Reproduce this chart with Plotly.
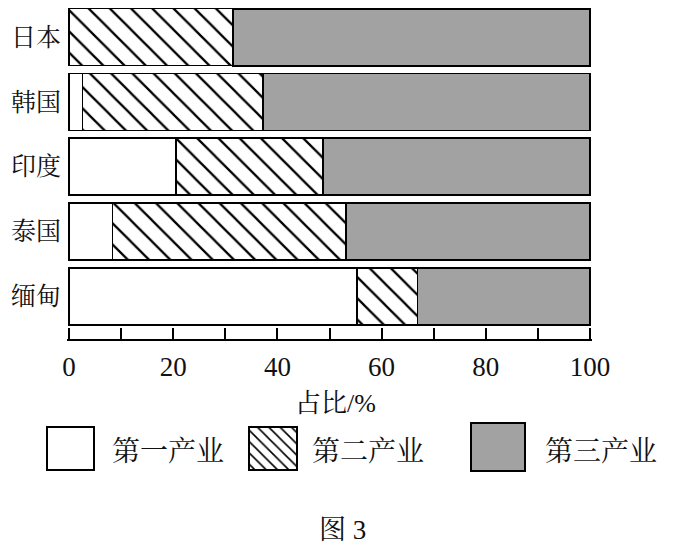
import plotly.graph_objs as go

# data (percent share of each sector)
countries = ['日本', '韩国', '印度', '泰国', '缅甸']
primary = [0, 2.6, 20.5, 8.3, 55.3]
secondary = [31.5, 34.7, 28.2, 44.9, 11.6]
tertiary = [68.5, 62.7, 51.3, 46.8, 33.1]
sector_names = ['第一产业', '第二产业', '第三产业']
x_ticks = [0, 10, 20, 30, 40, 50, 60, 70, 80, 90, 100]
x_ticktext = ['0', '', '20', '', '40', '', '60', '', '80', '', '100']

W, H = 678, 551
OFF = 8  # page body margin pushes the figure down/right by 8px
FONT = 'Liberation Serif, Noto Serif CJK SC, Noto Sans CJK SC'
GRAY = '#a2a2a2'


def xp(px):
    return (px - OFF) / W


def yp(py):
    return (H - (py - OFF)) / H


fig = go.Figure()

# stacked bars
fig.add_trace(go.Bar(y=countries, x=primary, orientation='h', name=sector_names[0],
                     marker=dict(color='white', line=dict(color='black', width=1.5))))
fig.add_trace(go.Bar(y=countries, x=secondary, orientation='h', name=sector_names[1],
                     marker=dict(color='white', line=dict(color='black', width=1.5),
                                 pattern=dict(shape='\\', fgcolor='black', bgcolor='white',
                                              size=15, solidity=0.15, fgopacity=1))))
fig.add_trace(go.Bar(y=countries, x=tertiary, orientation='h', name=sector_names[2],
                     marker=dict(color=GRAY, line=dict(color='black', width=1.8))))

# legend keys drawn as bars on a hidden pixel-scaled overlay axis (screen px, y up)
key_x = [70.5, 273, 498]
key_w = [47, 48, 54]
key_top = [427, 427, 423]
key_h = [43, 43, 48]
key_fill = ['white', 'white', GRAY]
key_pattern = ['', '\\', '']
for i in range(3):
    fig.add_trace(go.Bar(x=[key_x[i]], y=[key_h[i]], base=[H - key_top[i] - key_h[i]],
                         width=[key_w[i]], xaxis='x2', yaxis='y2',
                         marker=dict(color=key_fill[i], line=dict(color='black', width=1.5),
                                     pattern=dict(shape=key_pattern[i], fgcolor='black',
                                                  bgcolor=key_fill[i], size=8, solidity=0.2,
                                                  fgopacity=1))))

label_x = [110, 310, 543]
for i in range(3):
    fig.add_annotation(x=xp(label_x[i]), y=yp(451), xref='paper', yref='paper',
                       text=sector_names[i], showarrow=False, xanchor='left', yanchor='middle',
                       font=dict(size=28, family=FONT, color='#111'))

fig.add_annotation(x=xp(335), y=yp(403), xref='paper', yref='paper', text='占比/%',
                   showarrow=False, xanchor='center', yanchor='middle',
                   font=dict(size=26, family=FONT, color='#111'))
fig.add_annotation(x=xp(342), y=yp(530), xref='paper', yref='paper', text='图 3',
                   showarrow=False, xanchor='center', yanchor='middle',
                   font=dict(size=27, family=FONT, color='#111'))

fig.update_layout(
    width=W, height=H,
    margin=dict(l=0, r=0, t=0, b=0),
    paper_bgcolor='white', plot_bgcolor='rgba(0,0,0,0)',
    barmode='stack', bargap=0.12,
    showlegend=False,
    font=dict(family=FONT, color='#111'),
    xaxis=dict(domain=[xp(67), xp(592)], range=[-0.4, 100.4], tickvals=x_ticks,
               ticktext=x_ticktext, ticks='inside', ticklen=11, tickwidth=1.5,
               tickcolor='black', showline=True, linecolor='black', linewidth=1.5,
               showgrid=False, zeroline=False, tickfont=dict(size=27, family=FONT),
               ticklabelstandoff=3, fixedrange=True, automargin=False),
    yaxis=dict(domain=[yp(339), 1], type='category',
               categoryarray=countries[::-1], range=[-0.66, 4.45],
               showline=False, showgrid=False, zeroline=False, ticks='',
               tickfont=dict(size=25, family=FONT), ticklabelstandoff=5, fixedrange=True,
               automargin=False),
    xaxis2=dict(domain=[0, 1], range=[OFF, W + OFF], visible=False, anchor='y2',
                fixedrange=True, automargin=False),
    yaxis2=dict(domain=[0, 1], range=[-OFF, H - OFF], visible=False, anchor='x2',
                fixedrange=True, automargin=False),
)

fig.write_html("out.html")
